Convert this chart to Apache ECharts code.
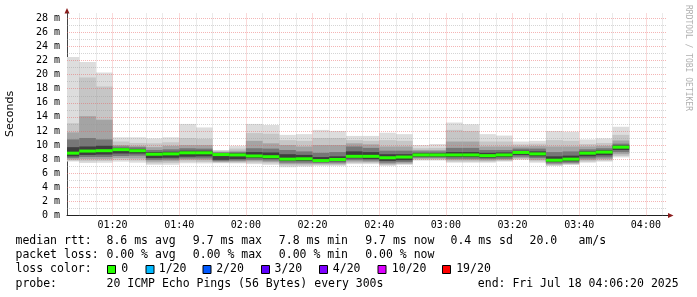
<!DOCTYPE html>
<html><head><meta charset="utf-8">
<script src="https://cdn.jsdelivr.net/npm/echarts@6/dist/echarts.min.js"></script>
<style>html,body{margin:0;padding:0;background:#fff}#c{width:697px;height:297px}</style>
</head><body><div id="c"></div>
<script>
// ---- data ----
const axisStart = '01:06:20';
const axisEnd = '04:06:20';
const slotEnd = ['01:10','01:15','01:20','01:25','01:30','01:35','01:40','01:45','01:50','01:55',
  '02:00','02:05','02:10','02:15','02:20','02:25','02:30','02:35','02:40','02:45','02:50','02:55',
  '03:00','03:05','03:10','03:15','03:20','03:25','03:30','03:35','03:40','03:45','03:50','03:55'];
const rttMax = [22.5,21.8,20.3,11.1,11.1,10.95,11.1,13.0,12.5,9.3,9.9,13.0,12.85,11.45,11.55,12.15,12.0,11.3,11.3,11.75,11.55,10.0,10.15,13.2,12.95,11.55,11.35,10.5,10.6,12.0,11.9,10.8,10.95,12.6];
const rttHi1 = [13.1,19.6,18.3,10.5,10.3,10.25,10.4,11.0,10.9,9.2,9.5,11.7,11.6,10.7,10.6,11.0,11.0,10.7,10.6,10.7,10.6,9.55,9.6,12.15,12.0,10.5,10.5,10.1,10.2,10.7,10.6,10.15,10.3,11.45];
const rttHi2 = [11.8,14.1,13.6,10.0,9.9,9.7,9.9,10.0,10.0,9.05,9.2,10.6,10.25,10.0,9.8,10.0,10.0,10.25,10.1,9.8,9.8,9.3,9.3,10.5,10.5,9.8,9.8,9.8,9.85,9.8,9.8,9.8,9.9,10.65];
const rttHi3 = [10.8,11.0,10.8,9.8,9.7,9.3,9.4,9.55,9.5,8.95,9.0,9.55,9.5,9.3,9.1,8.9,9.0,9.8,9.6,9.2,9.2,9.1,9.1,9.6,9.6,9.3,9.3,9.5,9.5,9.0,9.1,9.4,9.55,10.2];
const rttHi4 = [9.7,9.8,9.9,9.55,9.45,9.0,9.05,9.2,9.2,8.85,8.85,9.0,8.95,8.7,8.6,8.3,8.4,9.1,9.0,8.7,8.7,8.85,8.85,9.0,9.0,8.9,8.95,9.2,9.1,8.4,8.5,9.1,9.25,9.95];
const rttMedian = [8.85,9.15,9.2,9.35,9.2,8.7,8.75,8.9,8.9,8.65,8.6,8.45,8.35,8.0,8.05,7.8,7.95,8.4,8.4,8.2,8.3,8.6,8.6,8.6,8.6,8.5,8.6,8.95,8.75,7.85,8.0,8.85,9.0,9.7];
const rttLo4 = [8.4,8.6,8.65,8.8,8.8,8.15,8.2,8.35,8.4,7.9,8.0,8.15,8.05,7.75,7.75,7.6,7.7,8.1,8.0,7.75,7.85,8.35,8.35,8.3,8.3,8.2,8.3,8.6,8.4,7.6,7.7,8.4,8.55,9.3];
const rttLo3 = [8.15,8.3,8.3,8.45,8.5,7.9,7.95,8.1,8.1,7.75,7.8,7.9,7.8,7.5,7.5,7.45,7.5,7.85,7.8,7.5,7.6,8.2,8.2,8.05,8.05,8.0,8.05,8.35,8.15,7.4,7.5,8.1,8.25,9.0];
const rttLo2 = [7.95,8.0,8.0,8.15,8.1,7.65,7.7,7.9,7.85,7.6,7.65,7.7,7.6,7.3,7.3,7.3,7.3,7.65,7.6,7.3,7.4,8.05,8.05,7.85,7.85,7.8,7.9,8.15,7.9,7.25,7.35,7.85,8.0,8.7];
const rttLo1 = [7.8,7.7,7.75,7.9,7.8,7.4,7.45,7.65,7.6,7.5,7.5,7.5,7.4,7.1,7.1,7.15,7.15,7.45,7.45,7.15,7.3,7.9,7.9,7.65,7.65,7.65,7.75,8.0,7.7,7.1,7.25,7.65,7.8,8.45];
const rttMin = [7.65,7.45,7.5,7.65,7.5,7.2,7.2,7.42,7.4,7.42,7.4,7.3,7.2,6.85,6.95,7.05,7.05,7.3,7.3,7.05,7.2,7.8,7.8,7.5,7.5,7.5,7.65,7.9,7.5,7.05,7.2,7.5,7.65,8.25];
const xTickLabels = ['01:20','01:40','02:00','02:20','02:40','03:00','03:20','03:40','04:00'];
const yTicks = [0,2,4,6,8,10,12,14,16,18,20,22,24,26,28];
const lossLabels = ['0','1/20','2/20','3/20','4/20','10/20','19/20'];
const lossColors = ['#26ff00','#00b8ff','#0059ff','#5e00ff','#7e00ff','#dd00ff','#ff0000'];

// ---- helpers ----
function toMin(s){const p=s.split(':').map(Number);return p[0]*60+p[1]+(p[2]||0)/60;}
function fmt(v){const m=Math.round(v);const h=Math.floor(m/60),mm=m%60;return String(h).padStart(2,'0')+':'+String(mm).padStart(2,'0');}
const xMin = toMin(axisStart), xMax = toMin(axisEnd);
const ends = slotEnd.map(toMin);
const starts = ends.map((e,i)=> i===0 ? xMin : ends[i-1]);

const bands = [
  {lo: rttMin, hi: rttMax, color: '#dddddd'},
  {lo: rttLo1, hi: rttHi1, color: '#c6c6c6'},
  {lo: rttLo2, hi: rttHi2, color: '#a4a4a4'},
  {lo: rttLo3, hi: rttHi3, color: '#777777'},
  {lo: rttLo4, hi: rttHi4, color: '#3e3e3e'}
];

function bandSeries(b, idx){
  return {
    type: 'custom', z: 2 + idx, silent: true,
    data: starts.map((s,i)=>[s, ends[i], b.lo[i], b.hi[i]]),
    renderItem: function(params, api){
      const p0 = api.coord([api.value(0), api.value(3)]);
      const p1 = api.coord([api.value(1), api.value(2)]);
      return {type:'rect', shape:{x:p0[0], y:p0[1], width:p1[0]-p0[0], height:p1[1]-p0[1]}, style:{fill:b.color}};
    }
  };
}

const medianSeries = {
  type: 'custom', z: 9, silent: true,
  data: starts.map((s,i)=>[s, ends[i], rttMedian[i]]),
  renderItem: function(params, api){
    const p0 = api.coord([api.value(0), api.value(2)]);
    const p1 = api.coord([api.value(1), api.value(2)]);
    return {type:'rect', shape:{x:p0[0], y:p0[1]-1.5, width:p1[0]-p0[0], height:3}, style:{fill:lossColors[0]}};
  }
};

const minorX=[], majorX=[];
for (let m = 70; m < xMax; m += 5) { (m % 20 === 0 ? majorX : minorX).push({xAxis: m}); }
const minorY=[], majorY=[];
for (let v = 1; v <= 28; v++) { (v % 2 === 0 ? majorY : minorY).push({yAxis: v}); }

function gridSeries(data, color, z){
  return {type:'line', data:[], z:z, silent:true,
    markLine:{silent:true, symbol:['none','none'], animation:false, label:{show:false},
      lineStyle:{color:color, width:1, type:[1,1]}, data:data}};
}

const chart = echarts.init(document.getElementById('c'), null, {renderer:'canvas'});
const mono = 'DejaVu Sans Mono';
const legendFont = '11.5px "DejaVu Sans Mono"';
const g = [];
function txt(s, x, y){ g.push({type:'text', x:x, y:y, silent:true, style:{text:s, font:legendFont, fill:'#000', textAlign:'left', textVerticalAlign:'middle'}}); }
txt('median rtt:',15.5,241); txt('8.6 ms avg',106.5,241); txt('9.7 ms max',192.8,241); txt('7.8 ms min',278.8,241);
txt('9.7 ms now',365.2,241); txt('0.4 ms sd',450.5,241); txt('20.0',529.5,241); txt('am/s',578.5,241);
txt('packet loss:',15.5,255); txt('0.00 % avg',106.5,255); txt('0.00 % max',192.8,255); txt('0.00 % min',278.8,255); txt('0.00 % now',365.2,255);
txt('loss color:',15.5,269.3);
const sqX = [107,145.5,202.5,261,319,377.5,442];
const lbX = [121.2,158.8,216.2,274.5,332.8,391.8,456.2];
lossLabels.forEach((l,i)=>{
  g.push({type:'rect', silent:true, shape:{x:sqX[i]+0.5, y:265.5, width:8, height:8}, style:{fill:lossColors[i], stroke:'#000', lineWidth:1}});
  txt(l, lbX[i], 269.3);
});
txt('probe:',15.5,284); txt('20 ICMP Echo Pings (56 Bytes) every 300s',106.5,284); txt('end: Fri Jul 18 04:06:20 2025',477.8,284);
// y axis title
g.push({type:'text', x:10.5, y:114, rotation:Math.PI/2, silent:true, style:{text:'Seconds', font:'11px "DejaVu Sans"', fill:'#000', textAlign:'center', textVerticalAlign:'middle'}});
// watermark
g.push({type:'text', x:688, y:5, rotation:-Math.PI/2, silent:true, style:{text:'RRDTOOL / TOBI OETIKER', font:'8px "DejaVu Sans Mono"', fill:'#b0b0b0', textAlign:'left', textVerticalAlign:'middle'}});
// axis arrows
g.push({type:'line', silent:true, shape:{x1:667,y1:215.5,x2:669,y2:215.5}, style:{stroke:'#222',lineWidth:1}});
g.push({type:'polygon', silent:true, shape:{points:[[668,213],[673.5,215.5],[668,218]]}, style:{fill:'#8b1c1c'}});
g.push({type:'polygon', silent:true, shape:{points:[[64.5,13.5],[67,8],[69.5,13.5]]}, style:{fill:'#8b1c1c'}});

chart.setOption({
  animation:false,
  backgroundColor:'#ffffff',
  grid:{left:67, top:13, width:600, height:202.5, containLabel:false},
  xAxis:{type:'value', min:xMin, max:xMax,
    axisLine:{show:true, onZero:false, lineStyle:{color:'#222', width:1}},
    axisTick:{show:false},
    splitLine:{show:false},
    axisLabel:{customValues:xTickLabels.map(toMin), formatter:fmt, margin:5, fontFamily:mono, fontSize:10, color:'#000'}
  },
  yAxis:{type:'value', min:0, max:28.75, interval:2,
    axisLine:{show:true, lineStyle:{color:'#444', width:1}},
    axisTick:{show:false},
    splitLine:{show:false},
    axisLabel:{formatter:function(v){return yTicks.indexOf(v)>=0 ? v+' m' : '';}, margin:7, fontFamily:mono, fontSize:10, color:'#000'}
  },
  series: bands.map(bandSeries).concat([
    medianSeries,
    gridSeries(minorX.concat(minorY), 'rgba(150,150,150,0.4)', 20),
    gridSeries(majorX.concat(majorY), 'rgba(230,90,90,0.45)', 21)
  ]),
  graphic: g
});
</script></body></html>
